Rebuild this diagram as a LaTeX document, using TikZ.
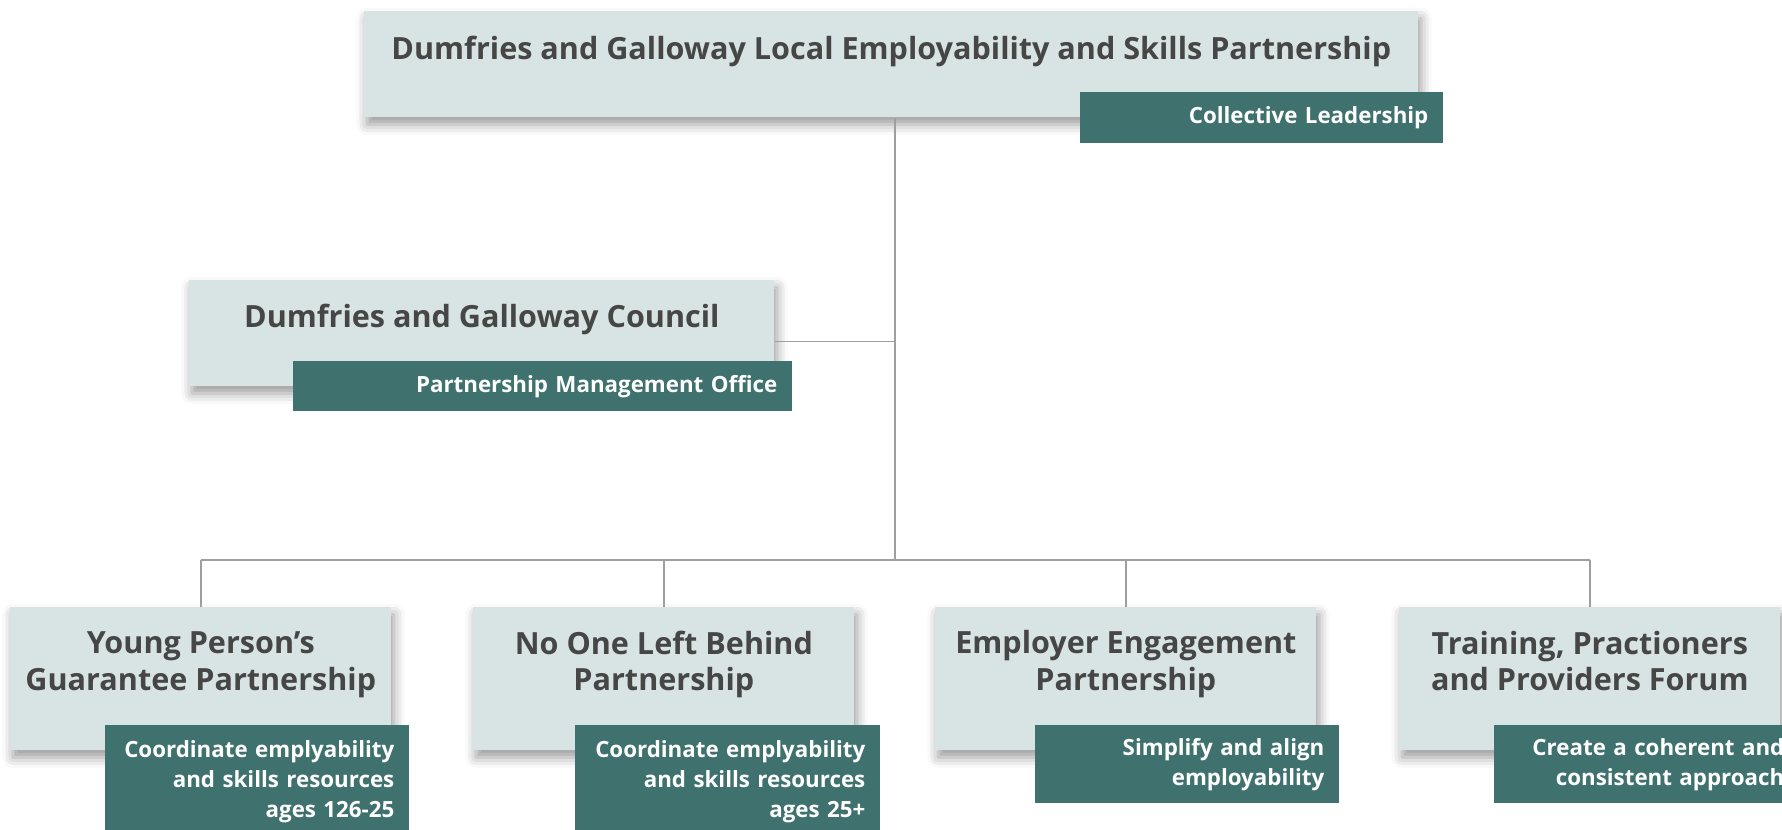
\documentclass[tikz,border=0pt]{standalone}
\usepackage{fontspec}
\setmainfont{Open Sans}
\usetikzlibrary{shadows.blur}

\definecolor{panelgrey}{HTML}{D8E4E4}
\definecolor{tealbox}{HTML}{3F726E}
\definecolor{titlegrey}{HTML}{464646}
\definecolor{linkgrey}{HTML}{9E9E9E}

\tikzset{
  panel/.style={fill=panelgrey, inner sep=0pt, anchor=north west,
    blur shadow={shadow xshift=1.5pt, shadow yshift=-4pt, shadow blur radius=6pt, shadow opacity=40}},
  heading/.style={text=titlegrey, align=center, font=\bfseries\fontsize{17.4}{21}\selectfont},
  tag/.style={fill=tealbox, text=white, anchor=north west, align=right,
    inner xsep=0.3cm, inner ysep=0pt, font=\bfseries\fontsize{12.7}{17}\selectfont},
  link/.style={draw=linkgrey, line width=0.8pt}
}

\begin{document}
\begin{tikzpicture}
  \useasboundingbox (0,0) rectangle (35.64,-16.6);
  \clip (0,0) rectangle (35.64,-16.6);

  % partnership at the top
  \node[panel, minimum width=21.08cm, minimum height=2.12cm] (lead) at (7.28,-0.22) {};
  \node[heading] (leadtitle) at ([yshift=-0.8cm]lead.north) {Dumfries and Galloway Local Employability and Skills Partnership};
  \node[tag, text width=6.66cm, minimum height=1.02cm] (leadtag) at (21.6,-1.84) {Collective Leadership};

  % council
  \node[panel, minimum width=11.7cm, minimum height=2.12cm] (council) at (3.78,-5.6) {};
  \node[heading] (counciltitle) at ([yshift=-0.78cm]council.north) {Dumfries and Galloway Council};
  \node[tag, text width=9.38cm, minimum height=1cm] (counciltag) at (5.86,-7.22) {Partnership Management Office};

  % the four partnerships below
  \node[panel, minimum width=7.62cm, minimum height=2.86cm] (yp) at (0.2,-12.14) {};
  \node[heading] (yptitle) at ([yshift=-1.15cm]yp.north) {Young Person’s\\Guarantee Partnership};
  \node[tag, text width=5.48cm, minimum height=2.24cm] (yptag) at (2.1,-14.5) {Coordinate emplyability\\and skills resources\\ages 126-25};

  \node[panel, minimum width=7.62cm, minimum height=2.86cm] (nolb) at (9.46,-12.14) {};
  \node[heading] (nolbtitle) at ([yshift=-1.15cm]nolb.north) {No One Left Behind\\Partnership};
  \node[tag, text width=5.5cm, minimum height=2.24cm] (nolbtag) at (11.5,-14.5) {Coordinate emplyability\\and skills resources\\ages 25+};

  \node[panel, minimum width=7.62cm, minimum height=2.86cm] (emp) at (18.7,-12.14) {};
  \node[heading] (emptitle) at ([yshift=-1.15cm]emp.north) {Employer Engagement\\Partnership};
  \node[tag, text width=5.48cm, minimum height=1.56cm] (emptag) at (20.7,-14.5) {Simplify and align\\employability};

  \node[panel, minimum width=7.62cm, minimum height=2.86cm] (tpp) at (27.98,-12.14) {};
  \node[heading] (tpptitle) at ([yshift=-1.08cm]tpp.north) {Training, Practioners\\and Providers Forum};
  \node[tag, text width=5.5cm, minimum height=1.56cm] (tpptag) at (29.88,-14.5) {Create a coherent and\\consistent approach};

  % connectors
  \coordinate (bus) at ([xshift=0.07cm]lead.south |- 0,-11.2);
  \draw[link] ([xshift=0.07cm]lead.south) -- (bus);
  \draw[link] ([yshift=-0.16cm]council.east) -- ([yshift=-0.16cm]council.east -| bus);
  \draw[link] (yp.north |- bus) -- (tpp.north |- bus);
  \foreach \n in {yp,nolb,emp,tpp}
    \draw[link] (\n.north |- bus) -- (\n.north);
\end{tikzpicture}
\end{document}
